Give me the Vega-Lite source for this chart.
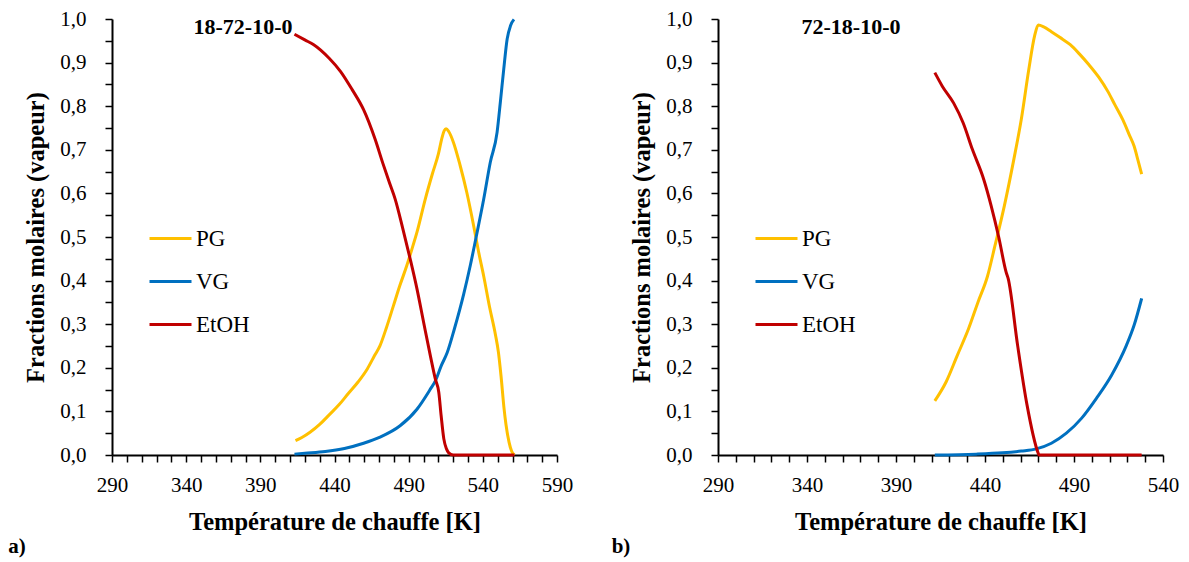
{
  "$schema": "https://vega.github.io/schema/vega-lite/v6.json",
  "padding": {"left": 8, "top": 8, "right": 10, "bottom": 4},
  "background": "white",
  "config": {
    "font": "Liberation Serif",
    "view": {"stroke": null},
    "axis": {
      "grid": false, "domainColor": "black", "domainWidth": 2, "tickColor": "black", "tickWidth": 1.5, "tickSize": 7, "tickCount": 100,
      "labelColor": "black", "labelFontSize": 21, "labelFont": "Liberation Serif", "titleFont": "Liberation Serif",
      "titleFontSize": 24.5, "titleFontWeight": "bold", "titleColor": "black", "labelOverlap": false, "labelFlush": false, "labelBound": false
    },
    "legend": {"labelFont": "Liberation Serif", "labelFontSize": 23, "labelColor": "black", "symbolType": "stroke", "symbolStrokeWidth": 3, "symbolSize": 1764, "padding": 0, "rowPadding": 8, "labelOffset": 3}
  },
  "datasets": {
    "a": [
      {"T": 413.7, "v": 0.033, "serie": "PG"}, {"T": 418, "v": 0.04, "serie": "PG"}, {"T": 423.5, "v": 0.052, "serie": "PG"}, {"T": 430, "v": 0.07, "serie": "PG"},
      {"T": 436.4, "v": 0.092, "serie": "PG"}, {"T": 443, "v": 0.115, "serie": "PG"}, {"T": 449.3, "v": 0.141, "serie": "PG"}, {"T": 456, "v": 0.168, "serie": "PG"},
      {"T": 462.2, "v": 0.198, "serie": "PG"}, {"T": 467, "v": 0.228, "serie": "PG"}, {"T": 470.7, "v": 0.251, "serie": "PG"}, {"T": 475, "v": 0.292, "serie": "PG"},
      {"T": 479.7, "v": 0.342, "serie": "PG"}, {"T": 484, "v": 0.388, "serie": "PG"}, {"T": 488.7, "v": 0.434, "serie": "PG"}, {"T": 492, "v": 0.47, "serie": "PG"},
      {"T": 495.6, "v": 0.511, "serie": "PG"}, {"T": 501.2, "v": 0.587, "serie": "PG"}, {"T": 506, "v": 0.645, "serie": "PG"}, {"T": 510, "v": 0.69, "serie": "PG"},
      {"T": 512.5, "v": 0.728, "serie": "PG"}, {"T": 514, "v": 0.744, "serie": "PG"}, {"T": 515.2, "v": 0.748, "serie": "PG"}, {"T": 517, "v": 0.742, "serie": "PG"},
      {"T": 520.2, "v": 0.717, "serie": "PG"}, {"T": 524.7, "v": 0.664, "serie": "PG"}, {"T": 529.2, "v": 0.602, "serie": "PG"}, {"T": 533.8, "v": 0.526, "serie": "PG"},
      {"T": 537.2, "v": 0.465, "serie": "PG"}, {"T": 540.6, "v": 0.41, "serie": "PG"}, {"T": 544.5, "v": 0.34, "serie": "PG"}, {"T": 548.5, "v": 0.276, "serie": "PG"},
      {"T": 550.5, "v": 0.236, "serie": "PG"}, {"T": 552.3, "v": 0.18, "serie": "PG"}, {"T": 554.2, "v": 0.11, "serie": "PG"}, {"T": 555.6, "v": 0.07, "serie": "PG"},
      {"T": 557.7, "v": 0.029, "serie": "PG"}, {"T": 559.5, "v": 0.008, "serie": "PG"}, {"T": 561.3, "v": 0, "serie": "PG"},
      {"T": 413, "v": 0.002, "serie": "VG"}, {"T": 420, "v": 0.004, "serie": "VG"}, {"T": 433.8, "v": 0.008, "serie": "VG"}, {"T": 446.7, "v": 0.015, "serie": "VG"},
      {"T": 459.6, "v": 0.027, "serie": "VG"}, {"T": 470.7, "v": 0.041, "serie": "VG"}, {"T": 484.2, "v": 0.067, "serie": "VG"}, {"T": 495.6, "v": 0.105, "serie": "VG"},
      {"T": 504.6, "v": 0.151, "serie": "VG"}, {"T": 508, "v": 0.17, "serie": "VG"}, {"T": 512, "v": 0.205, "serie": "VG"}, {"T": 516, "v": 0.235, "serie": "VG"},
      {"T": 520.8, "v": 0.289, "serie": "VG"}, {"T": 527.1, "v": 0.369, "serie": "VG"}, {"T": 531.5, "v": 0.434, "serie": "VG"}, {"T": 535.5, "v": 0.5, "serie": "VG"},
      {"T": 540.6, "v": 0.587, "serie": "VG"}, {"T": 545, "v": 0.671, "serie": "VG"}, {"T": 549.6, "v": 0.74, "serie": "VG"}, {"T": 551.8, "v": 0.809, "serie": "VG"},
      {"T": 554.1, "v": 0.885, "serie": "VG"}, {"T": 556.4, "v": 0.954, "serie": "VG"}, {"T": 558.7, "v": 0.985, "serie": "VG"}, {"T": 561, "v": 0.999, "serie": "VG"},
      {"T": 413, "v": 0.965, "serie": "EtOH"}, {"T": 420, "v": 0.952, "serie": "EtOH"}, {"T": 426, "v": 0.941, "serie": "EtOH"}, {"T": 436.4, "v": 0.91, "serie": "EtOH"},
      {"T": 444, "v": 0.88, "serie": "EtOH"}, {"T": 451.9, "v": 0.838, "serie": "EtOH"}, {"T": 459.6, "v": 0.792, "serie": "EtOH"}, {"T": 467.4, "v": 0.724, "serie": "EtOH"},
      {"T": 472.5, "v": 0.67, "serie": "EtOH"}, {"T": 477, "v": 0.625, "serie": "EtOH"}, {"T": 480.9, "v": 0.587, "serie": "EtOH"}, {"T": 486, "v": 0.52, "serie": "EtOH"},
      {"T": 491, "v": 0.45, "serie": "EtOH"}, {"T": 495.6, "v": 0.381, "serie": "EtOH"}, {"T": 500.1, "v": 0.304, "serie": "EtOH"}, {"T": 504.6, "v": 0.228, "serie": "EtOH"},
      {"T": 508, "v": 0.174, "serie": "EtOH"}, {"T": 510.3, "v": 0.144, "serie": "EtOH"}, {"T": 511.9, "v": 0.09, "serie": "EtOH"}, {"T": 513.7, "v": 0.037, "serie": "EtOH"},
      {"T": 515.5, "v": 0.014, "serie": "EtOH"}, {"T": 517, "v": 0.005, "serie": "EtOH"}, {"T": 520, "v": 0, "serie": "EtOH"}, {"T": 561.3, "v": 0, "serie": "EtOH"}
    ],
    "b": [
      {"T": 411.8, "v": 0.124, "serie": "PG"}, {"T": 418.2, "v": 0.168, "serie": "PG"}, {"T": 424.5, "v": 0.229, "serie": "PG"}, {"T": 430.8, "v": 0.29, "serie": "PG"},
      {"T": 436.1, "v": 0.351, "serie": "PG"}, {"T": 441.4, "v": 0.41, "serie": "PG"}, {"T": 445.6, "v": 0.48, "serie": "PG"}, {"T": 450.9, "v": 0.572, "serie": "PG"},
      {"T": 456.2, "v": 0.678, "serie": "PG"}, {"T": 460.4, "v": 0.77, "serie": "PG"}, {"T": 464.6, "v": 0.884, "serie": "PG"}, {"T": 467.8, "v": 0.96, "serie": "PG"},
      {"T": 469.9, "v": 0.986, "serie": "PG"}, {"T": 473, "v": 0.982, "serie": "PG"}, {"T": 477.3, "v": 0.971, "serie": "PG"}, {"T": 482, "v": 0.958, "serie": "PG"},
      {"T": 487.9, "v": 0.941, "serie": "PG"}, {"T": 493, "v": 0.92, "serie": "PG"}, {"T": 498.4, "v": 0.895, "serie": "PG"}, {"T": 504, "v": 0.866, "serie": "PG"},
      {"T": 509, "v": 0.834, "serie": "PG"}, {"T": 513, "v": 0.803, "serie": "PG"}, {"T": 517.4, "v": 0.769, "serie": "PG"}, {"T": 521, "v": 0.735, "serie": "PG"},
      {"T": 523.8, "v": 0.708, "serie": "PG"}, {"T": 526, "v": 0.675, "serie": "PG"}, {"T": 528, "v": 0.644, "serie": "PG"},
      {"T": 411.8, "v": 0, "serie": "VG"}, {"T": 435, "v": 0.002, "serie": "VG"}, {"T": 449.8, "v": 0.005, "serie": "VG"}, {"T": 460.4, "v": 0.009, "serie": "VG"},
      {"T": 468.8, "v": 0.014, "serie": "VG"}, {"T": 477.3, "v": 0.027, "serie": "VG"}, {"T": 485.7, "v": 0.05, "serie": "VG"}, {"T": 494.2, "v": 0.084, "serie": "VG"},
      {"T": 502.6, "v": 0.13, "serie": "VG"}, {"T": 511.1, "v": 0.183, "serie": "VG"}, {"T": 519.5, "v": 0.252, "serie": "VG"}, {"T": 523.8, "v": 0.298, "serie": "VG"},
      {"T": 528, "v": 0.359, "serie": "VG"},
      {"T": 411.8, "v": 0.877, "serie": "EtOH"}, {"T": 416, "v": 0.846, "serie": "EtOH"}, {"T": 422.4, "v": 0.807, "serie": "EtOH"}, {"T": 427.7, "v": 0.762, "serie": "EtOH"},
      {"T": 432.9, "v": 0.701, "serie": "EtOH"}, {"T": 439.3, "v": 0.632, "serie": "EtOH"}, {"T": 443.5, "v": 0.571, "serie": "EtOH"}, {"T": 447.7, "v": 0.5, "serie": "EtOH"},
      {"T": 451.9, "v": 0.419, "serie": "EtOH"}, {"T": 453, "v": 0.405, "serie": "EtOH"}, {"T": 458.3, "v": 0.252, "serie": "EtOH"}, {"T": 463.6, "v": 0.115, "serie": "EtOH"},
      {"T": 469.9, "v": 0.004, "serie": "EtOH"}, {"T": 470.3, "v": 0, "serie": "EtOH"}, {"T": 528, "v": 0, "serie": "EtOH"}
    ]
  },
  "spacing": 161,
  "bounds": "flush",
  "resolve": {"scale": {"color": "independent", "x": "independent"}, "legend": {"color": "independent"}},
  "hconcat": [
    {
      "width": 445, "height": 436,
      "layer": [
        {
          "data": {"name": "a"},
          "mark": {"type": "line", "strokeWidth": 3, "interpolate": "monotone"},
          "encoding": {
            "x": {"field": "T", "type": "quantitative", "scale": {"domain": [290, 590], "nice": false, "zero": false},
                  "axis": {"title": "Température de chauffe [K]", "values": [290,300,310,320,330,340,350,360,370,380,390,400,410,420,430,440,450,460,470,480,490,500,510,520,530,540,550,560,570,580,590],
                           "labelExpr": "(datum.value - 290) % 50 == 0 ? datum.value : ''", "labelPadding": 12, "titlePadding": 15}},
            "y": {"field": "v", "type": "quantitative", "scale": {"domain": [0, 1], "nice": false},
                  "axis": {"title": "Fractions molaires (vapeur)", "values": [0,0.05,0.1,0.15,0.2,0.25,0.3,0.35,0.4,0.45,0.5,0.55,0.6,0.65,0.7,0.75,0.8,0.85,0.9,0.95,1],
                           "labelExpr": "round(datum.value*100) % 10 == 0 ? replace(format(datum.value, '.1f'), '.', ',') : ''", "labelPadding": 19, "titlePadding": 11}},
            "color": {"field": "serie", "type": "nominal", "sort": ["PG", "VG", "EtOH"],
                      "scale": {"domain": ["PG", "VG", "EtOH"], "range": ["#FFC000", "#0070C0", "#C00000"]},
                      "legend": {"title": null, "orient": "none", "legendX": 36, "legendY": 197}},
            "order": {"field": "T", "type": "quantitative"}
          }
        },
        {
          "data": {"values": [{"titre": "18-72-10-0"}]},
          "mark": {"type": "text", "fontSize": 22, "fontWeight": "bold", "color": "black", "baseline": "middle", "align": "center"},
          "encoding": {"x": {"datum": 378.3}, "y": {"datum": 0.982}, "text": {"field": "titre"}}
        },
        {
          "data": {"values": [{"lettre": "a)"}]},
          "mark": {"type": "text", "fontSize": 21, "fontWeight": "bold", "color": "black", "baseline": "middle", "align": "center"},
          "encoding": {"x": {"datum": 225.9}, "y": {"datum": -0.211}, "text": {"field": "lettre"}}
        }
      ]
    },
    {
      "width": 445, "height": 436,
      "layer": [
        {
          "data": {"name": "b"},
          "mark": {"type": "line", "strokeWidth": 3, "interpolate": "monotone"},
          "encoding": {
            "x": {"field": "T", "type": "quantitative", "scale": {"domain": [290, 540], "nice": false, "zero": false},
                  "axis": {"title": "Température de chauffe [K]", "values": [290,300,310,320,330,340,350,360,370,380,390,400,410,420,430,440,450,460,470,480,490,500,510,520,530,540],
                           "labelExpr": "(datum.value - 290) % 50 == 0 ? datum.value : ''", "labelPadding": 12, "titlePadding": 15}},
            "y": {"field": "v", "type": "quantitative", "scale": {"domain": [0, 1], "nice": false},
                  "axis": {"title": "Fractions molaires (vapeur)", "values": [0,0.05,0.1,0.15,0.2,0.25,0.3,0.35,0.4,0.45,0.5,0.55,0.6,0.65,0.7,0.75,0.8,0.85,0.9,0.95,1],
                           "labelExpr": "round(datum.value*100) % 10 == 0 ? replace(format(datum.value, '.1f'), '.', ',') : ''", "labelPadding": 19, "titlePadding": 11}},
            "color": {"field": "serie", "type": "nominal", "sort": ["PG", "VG", "EtOH"],
                      "scale": {"domain": ["PG", "VG", "EtOH"], "range": ["#FFC000", "#0070C0", "#C00000"]},
                      "legend": {"title": null, "orient": "none", "legendX": 36, "legendY": 197}},
            "order": {"field": "T", "type": "quantitative"}
          }
        },
        {
          "data": {"values": [{"titre": "72-18-10-0"}]},
          "mark": {"type": "text", "fontSize": 22, "fontWeight": "bold", "color": "black", "baseline": "middle", "align": "center"},
          "encoding": {"x": {"datum": 364.7}, "y": {"datum": 0.982}, "text": {"field": "titre"}}
        },
        {
          "data": {"values": [{"lettre": "b)"}]},
          "mark": {"type": "text", "fontSize": 21, "fontWeight": "bold", "color": "black", "baseline": "middle", "align": "center"},
          "encoding": {"x": {"datum": 235.5}, "y": {"datum": -0.211}, "text": {"field": "lettre"}}
        }
      ]
    }
  ]
}
